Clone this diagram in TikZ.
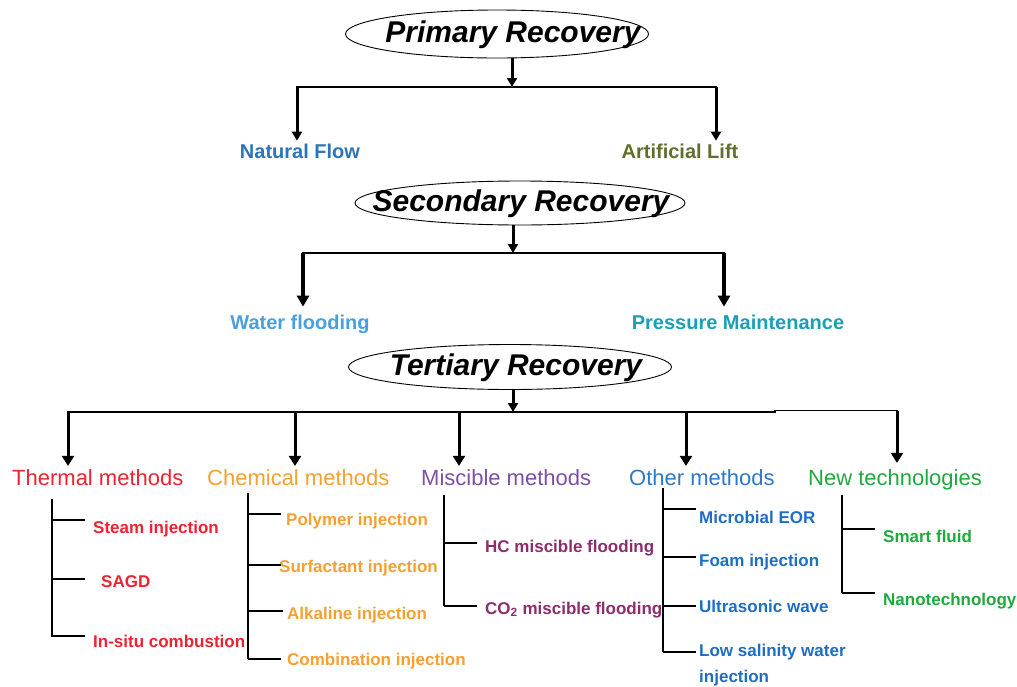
\documentclass[tikz,border=0pt]{standalone}
\usepackage{fontspec}
\setmainfont{Liberation Sans}
\usetikzlibrary{arrows.meta,shapes.geometric}
\definecolor{natblue}{RGB}{46,117,182}
\definecolor{liftgreen}{RGB}{95,112,45}
\definecolor{waterblue}{RGB}{74,160,222}
\definecolor{presteal}{RGB}{25,160,180}
\definecolor{thred}{RGB}{237,35,50}
\definecolor{chorange}{RGB}{247,160,50}
\definecolor{mipurple}{RGB}{125,80,165}
\definecolor{misub}{RGB}{140,45,110}
\definecolor{otblue}{RGB}{45,120,200}
\definecolor{otsub}{RGB}{30,110,195}
\definecolor{ngreen}{RGB}{30,170,60}
\begin{document}
\begin{tikzpicture}[x=1pt,y=-1pt,
  ell/.style={draw, ellipse, line width=0.9pt, inner sep=0},
  etext/.style={inner sep=0, font=\fontsize{30}{30}\selectfont\bfseries\itshape},
  arrA/.style={line width=3pt, -{Triangle[width=10pt,length=9pt]}},
  arrB/.style={line width=3.6pt, -{Triangle[width=12pt,length=11pt]}},
  arrC/.style={line width=3pt, -{Triangle[width=12pt,length=10pt]}},
  hline/.style={line width=1.9pt, line cap=rect},
  lab/.style={font=\fontsize{20}{20}\selectfont\bfseries, inner sep=0, text height=14.3pt, text depth=0pt},
  head/.style={font=\fontsize{22}{22}\selectfont, inner sep=0, anchor=west, text height=15.8pt, text depth=0pt},
  item/.style={font=\fontsize{17}{17}\selectfont\bfseries, inner sep=0, anchor=west, text height=12.2pt, text depth=0pt},
  sub/.style={line width=1.4pt}
]
\fill[white] (0,0) rectangle (1017,686);
\useasboundingbox (0,0) rectangle (1017,686);

% ---------- Primary ----------
\node[ell, minimum width=303pt, minimum height=48pt] (prim) at (497,34) {};
\node[etext] (primt) at (513,35) {Primary Recovery};
\coordinate (pj) at (512,87);
\coordinate (pl) at (297,87);
\coordinate (pr) at (716,87);
\draw[arrA] (prim.south -| pj) -- (pj);
\draw[hline] (pl) -- (pr);
\node[lab, text=natblue] (nat) at (300,151) {Natural Flow};
\node[lab, text=liftgreen] (lift) at (680,151) {Artificial Lift};
\draw[arrA, shorten >=3pt] (pl) -- (pl |- nat.north);
\draw[arrA, shorten >=3pt] (pr) -- (pr |- lift.north);

% ---------- Secondary ----------
\node[ell, minimum width=330pt, minimum height=44pt] (sec) at (520,203) {};
\node[etext] (sect) at (521,204) {Secondary Recovery};
\coordinate (sj) at (513,253);
\coordinate (sl) at (303,253);
\coordinate (sr) at (724,253);
\draw[arrA] (sec.south -| sj) -- (sj);
\draw[hline] (sl) -- (sr);
\node[lab, text=waterblue] (wat) at (300,322) {Water flooding};
\node[lab, text=presteal] (pres) at (738,322) {Pressure Maintenance};
\draw[arrB, shorten >=8pt] (sl) -- (sl |- wat.north);
\draw[arrB, shorten >=8pt] (sr) -- (sr |- pres.north);

% ---------- Tertiary ----------
\node[ell, minimum width=323pt, minimum height=45pt] (ter) at (510,367) {};
\node[etext] (tert) at (516,368) {Tertiary Recovery};
\coordinate (tj) at (513,412);
\coordinate (t1) at (68,412);
\coordinate (t2) at (295,412);
\coordinate (t3) at (459,412);
\coordinate (t4) at (686,412);
\coordinate (t5) at (897,410.5);
\draw[arrA] (ter.south -| tj) -- (tj);
\draw[hline] (t1) -- (775,412) -- (775,410.5) -- (t5);

\node[head, text=thred] (th) at (12,478) {Thermal methods};
\node[head, text=chorange] (ch) at (207,478) {Chemical methods};
\node[head, text=mipurple] (mi) at (421,478) {Miscible methods};
\node[head, text=otblue] (ot) at (629,478) {Other methods};
\node[head, text=ngreen] (nw) at (808,478) {New technologies};

\draw[arrC, shorten >=4pt] (t1) -- (t1 |- th.north);
\draw[arrC, shorten >=4pt] (t2) -- (t2 |- ch.north);
\draw[arrC, shorten >=4pt] (t3) -- (t3 |- mi.north);
\draw[arrC, shorten >=4pt] (t4) -- (t4 |- ot.north);
\draw[arrC, shorten >=7pt] (t5) -- (t5 |- nw.north);

% Thermal
\node[item, text=thred] (th1) at (93,527) {Steam injection};
\node[item, text=thred] (th2) at (101,581) {SAGD};
\node[item, text=thred] (th3) at (93,641) {In-situ combustion};
\draw[sub] (52,499) -- (52,637);
\draw[sub] (52,520) -- (85,520);
\draw[sub] (52,579) -- (85,579);
\draw[sub] (52,636) -- (85,636);

% Chemical
\node[item, text=chorange] (ch1) at (286,519) {Polymer injection};
\node[item, text=chorange] (ch2) at (279,566) {Surfactant injection};
\node[item, text=chorange] (ch3) at (287,613) {Alkaline injection};
\node[item, text=chorange] (ch4) at (287,659) {Combination injection};
\draw[sub] (248,493) -- (248,659);
\draw[sub] (248,514) -- (281,514);
\draw[sub] (248,565) -- (281,565);
\draw[sub] (248,611) -- (283,611);
\draw[sub] (248,659) -- (281,659);

% Miscible
\node[item, text=misub] (mi1) at (485,546) {HC miscible flooding};
\node[item, text=misub] (mi2) at (485,608) {CO\textsubscript{2} miscible flooding};
\draw[sub] (444,495) -- (444,606);
\draw[sub] (444,543) -- (477,543);
\draw[sub] (444,606) -- (477,606);

% Other
\node[item, text=otsub] (ot1) at (699,517) {Microbial EOR};
\node[item, text=otsub] (ot2) at (699,560) {Foam injection};
\node[item, text=otsub] (ot3) at (699,606) {Ultrasonic wave};
\node[font=\fontsize{17}{26}\selectfont\bfseries, inner sep=0, anchor=north west, align=left, text=otsub] (ot4) at (699,643.5) {Low salinity water\\injection};
\draw[sub] (663,488) -- (663,652);
\draw[sub] (663,509) -- (696,509);
\draw[sub] (663,557) -- (696,557);
\draw[sub] (663,606) -- (696,606);
\draw[sub] (663,652) -- (696,652);

% New technologies
\node[item, text=ngreen] (nw1) at (883,536) {Smart fluid};
\node[item, text=ngreen] (nw2) at (883,599) {Nanotechnology};
\draw[sub] (842,495) -- (842,593);
\draw[sub] (842,529) -- (875,529);
\draw[sub] (842,593) -- (875,593);
\end{tikzpicture}
\end{document}
